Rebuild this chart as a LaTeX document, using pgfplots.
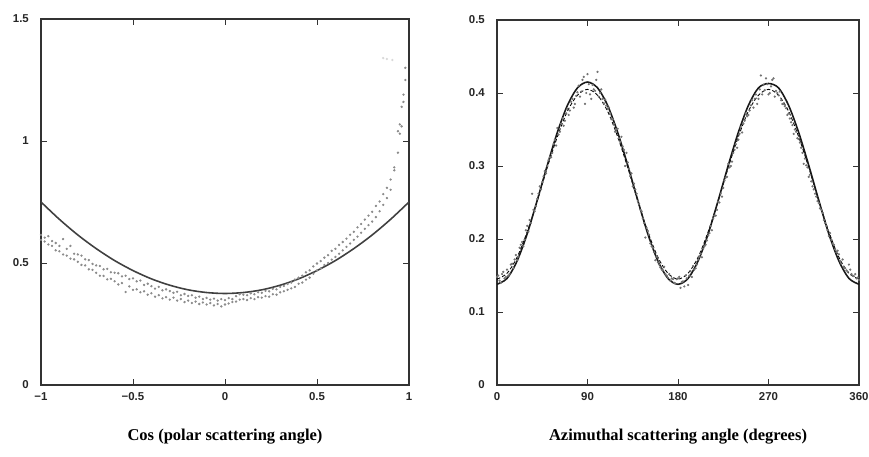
\documentclass[border=0pt]{standalone}
\usepackage{fontspec}
\setmainfont{Liberation Serif}
\newfontfamily\tickfont{Liberation Sans}
\usepackage{pgfplots}
\usepackage{pgfplotstable}
\pgfplotsset{compat=1.18}

% polar: measured points, two bands (u, l)
\pgfplotstableread{
x u l
-1.00 0.615 0.595
-0.98 0.604 0.588
-0.96 0.610 0.576
-0.94 0.590 0.570
-0.92 0.582 0.552
-0.90 0.570 0.548
-0.88 0.598 0.535
-0.86 0.558 0.530
-0.84 0.570 0.518
-0.82 0.538 0.515
-0.80 0.535 0.505
-0.78 0.530 0.492
-0.76 0.515 0.490
-0.74 0.512 0.474
-0.72 0.496 0.472
-0.70 0.490 0.460
-0.68 0.488 0.448
-0.66 0.474 0.447
-0.64 0.476 0.433
-0.62 0.462 0.435
-0.60 0.460 0.425
-0.58 0.458 0.412
-0.56 0.445 0.418
-0.54 0.448 0.381
-0.52 0.434 0.404
-0.50 0.437 0.390
-0.48 0.425 0.392
-0.46 0.428 0.380
-0.44 0.410 0.384
-0.42 0.415 0.370
-0.40 0.405 0.376
-0.38 0.395 0.362
-0.36 0.402 0.368
-0.34 0.388 0.355
-0.32 0.392 0.360
-0.30 0.385 0.350
-0.28 0.378 0.358
-0.26 0.382 0.346
-0.24 0.368 0.352
-0.22 0.373 0.340
-0.20 0.365 0.346
-0.18 0.368 0.336
-0.16 0.358 0.342
-0.14 0.362 0.332
-0.12 0.352 0.338
-0.10 0.357 0.330
-0.08 0.350 0.336
-0.06 0.354 0.326
-0.04 0.346 0.332
-0.02 0.352 0.322
0.00 0.348 0.330
0.02 0.356 0.334
0.04 0.352 0.340
0.06 0.364 0.342
0.08 0.372 0.350
0.10 0.370 0.352
0.12 0.368 0.348
0.14 0.376 0.356
0.16 0.372 0.352
0.18 0.380 0.360
0.20 0.378 0.358
0.22 0.386 0.364
0.24 0.384 0.362
0.26 0.394 0.372
0.28 0.392 0.370
0.30 0.402 0.380
0.32 0.406 0.384
0.34 0.414 0.390
0.36 0.420 0.396
0.38 0.432 0.402
0.40 0.440 0.415
0.42 0.448 0.420
0.44 0.462 0.432
0.46 0.470 0.440
0.48 0.486 0.456
0.50 0.498 0.470
0.52 0.508 0.478
0.54 0.522 0.492
0.56 0.532 0.500
0.58 0.550 0.514
0.60 0.558 0.525
0.62 0.574 0.538
0.64 0.586 0.552
0.66 0.600 0.566
0.68 0.616 0.580
0.70 0.628 0.595
0.72 0.646 0.608
0.74 0.660 0.624
0.76 0.678 0.640
0.78 0.694 0.655
0.80 0.710 0.670
0.82 0.734 0.688
0.84 0.752 0.712
0.86 0.782 0.738
0.88 0.808 0.766
0.90 0.842 0.800
0.92 0.880 0.892
0.94 0.952 1.040
0.95 1.068 1.030
0.96 1.140 1.060
0.97 1.190 1.160
0.98 1.300 1.250
}\polardots

% polar: model curve
\pgfplotstableread{
x y
-1.0 0.750
-0.9 0.679
-0.8 0.615
-0.7 0.559
-0.6 0.510
-0.5 0.469
-0.4 0.435
-0.3 0.409
-0.2 0.390
-0.1 0.379
0.0 0.375
0.1 0.379
0.2 0.390
0.3 0.409
0.4 0.435
0.5 0.469
0.6 0.510
0.7 0.559
0.8 0.615
0.9 0.679
1.0 0.750
}\polarfit

% azimuthal: model (solid) and fit (dashed)
\pgfplotstableread{
x s d
0 0.138 0.145
10 0.146 0.153
20 0.170 0.175
30 0.207 0.210
40 0.253 0.252
50 0.301 0.298
60 0.346 0.340
70 0.383 0.375
80 0.407 0.397
90 0.415 0.405
100 0.407 0.397
110 0.383 0.375
120 0.346 0.340
130 0.301 0.298
140 0.253 0.252
150 0.207 0.210
160 0.170 0.175
170 0.146 0.153
180 0.138 0.145
190 0.146 0.153
200 0.170 0.175
210 0.207 0.210
220 0.253 0.252
230 0.301 0.298
240 0.346 0.340
250 0.383 0.375
260 0.407 0.397
270 0.413 0.405
280 0.407 0.397
290 0.383 0.375
300 0.346 0.340
310 0.301 0.298
320 0.253 0.252
330 0.207 0.210
340 0.170 0.175
350 0.146 0.153
360 0.138 0.145
}\azifit

% azimuthal: measured points (two interleaved runs)
\pgfplotstableread{
x y
0 0.148
2.5 0.143
5 0.152
7.5 0.146
10 0.158
12.5 0.152
15 0.166
17.5 0.172
20 0.171
22.5 0.188
25 0.196
27.5 0.199
30 0.218
32.5 0.226
35 0.262
37.5 0.238
40 0.255
42.5 0.272
45 0.278
47.5 0.293
50 0.300
52.5 0.312
55 0.318
57.5 0.336
60 0.352
62.5 0.347
65 0.365
67.5 0.362
70 0.378
72.5 0.376
75 0.392
77.5 0.385
80 0.401
82.5 0.395
85 0.418
87.5 0.385
90 0.426
92.5 0.398
95 0.411
97.5 0.403
100 0.429
102.5 0.400
105 0.392
107.5 0.391
110 0.378
112.5 0.372
115 0.364
117.5 0.347
120 0.351
122.5 0.333
125 0.327
127.5 0.300
130 0.305
132.5 0.286
135 0.272
137.5 0.268
140 0.252
142.5 0.240
145 0.228
147.5 0.202
150 0.211
152.5 0.194
155 0.188
157.5 0.171
160 0.168
162.5 0.161
165 0.157
167.5 0.152
170 0.147
172.5 0.143
175 0.145
177.5 0.139
180 0.146
182.5 0.133
185 0.142
187.5 0.150
190 0.137
192.5 0.156
195 0.163
197.5 0.160
200 0.172
202.5 0.180
205 0.187
207.5 0.192
210 0.205
212.5 0.218
215 0.228
217.5 0.232
220 0.251
222.5 0.262
225 0.270
227.5 0.284
230 0.303
232.5 0.300
235 0.318
237.5 0.330
240 0.336
242.5 0.353
245 0.358
247.5 0.372
250 0.370
252.5 0.383
255 0.380
257.5 0.398
260 0.392
262.5 0.424
265 0.411
267.5 0.420
270 0.398
272.5 0.409
275 0.420
277.5 0.403
280 0.397
282.5 0.390
285 0.385
287.5 0.379
290 0.372
292.5 0.360
295 0.344
297.5 0.347
300 0.337
302.5 0.325
305 0.303
307.5 0.301
310 0.285
312.5 0.279
315 0.268
317.5 0.258
320 0.249
322.5 0.240
325 0.226
327.5 0.218
330 0.204
332.5 0.199
335 0.192
337.5 0.182
340 0.179
342.5 0.166
345 0.161
347.5 0.157
350 0.165
352.5 0.152
355 0.149
357.5 0.146
360 0.144
1.25 0.150
3.75 0.140
6.25 0.155
8.75 0.148
11.25 0.150
13.75 0.165
16.25 0.160
18.75 0.178
21.25 0.176
23.75 0.192
26.25 0.190
28.75 0.212
31.25 0.210
33.75 0.222
36.25 0.240
38.75 0.245
41.25 0.262
43.75 0.268
46.25 0.286
48.75 0.290
51.25 0.308
53.75 0.312
56.25 0.330
58.75 0.328
61.25 0.343
63.75 0.358
66.25 0.355
68.75 0.372
71.25 0.370
73.75 0.388
76.25 0.380
78.75 0.396
81.25 0.410
83.75 0.402
86.25 0.422
88.75 0.400
91.25 0.412
93.75 0.392
96.25 0.405
98.75 0.418
101.25 0.395
103.75 0.405
106.25 0.386
108.75 0.383
111.25 0.380
113.75 0.365
116.25 0.358
118.75 0.350
121.25 0.338
123.75 0.340
126.25 0.322
128.75 0.318
131.25 0.296
133.75 0.290
136.25 0.276
138.75 0.262
141.25 0.248
143.75 0.238
146.25 0.222
148.75 0.215
151.25 0.206
153.75 0.190
156.25 0.182
158.75 0.176
161.25 0.165
163.75 0.158
166.25 0.162
168.75 0.150
171.25 0.152
173.75 0.146
176.25 0.140
178.75 0.145
181.25 0.148
183.75 0.141
186.25 0.135
188.75 0.146
191.25 0.150
193.75 0.148
196.25 0.158
198.75 0.165
201.25 0.176
203.75 0.175
206.25 0.190
208.75 0.198
211.25 0.208
213.75 0.212
216.25 0.232
218.75 0.240
221.25 0.250
223.75 0.258
226.25 0.280
228.75 0.285
231.25 0.298
233.75 0.306
236.25 0.322
238.75 0.325
241.25 0.344
243.75 0.346
246.25 0.362
248.75 0.368
251.25 0.376
253.75 0.390
256.25 0.392
258.75 0.385
261.25 0.405
263.75 0.398
266.25 0.404
268.75 0.412
271.25 0.400
273.75 0.418
276.25 0.395
278.75 0.400
281.25 0.402
283.75 0.385
286.25 0.382
288.75 0.370
291.25 0.365
293.75 0.356
296.25 0.350
298.75 0.338
301.25 0.332
303.75 0.318
306.25 0.310
308.75 0.298
311.25 0.288
313.75 0.272
316.25 0.262
318.75 0.252
321.25 0.242
323.75 0.236
326.25 0.222
328.75 0.212
331.25 0.208
333.75 0.194
336.25 0.186
338.75 0.184
341.25 0.170
343.75 0.172
346.25 0.160
348.75 0.155
351.25 0.158
353.75 0.150
356.25 0.152
358.75 0.147
}\azidots

\pgfplotsset{
  panel/.style={
    scale only axis,
    axis line style={black!80, line width=0.6pt},
    tick style={black!80, line width=0.5pt},
    major tick length=0.12cm,
    tick align=inside,
    /pgf/number format/assume math mode=true,
    tick label style={font=\tickfont\bfseries\fontsize{6.5}{7}\selectfont, text=black!85},
    yticklabel style={xshift=-0.12cm},
    xticklabel style={yshift=-0.03cm},
    xlabel style={font=\bfseries\fontsize{9.4}{11}\selectfont,
                  at={(axis description cs:0.5,0)}, anchor=base, yshift=-1.1cm},
  },
}

\begin{document}
\begin{tikzpicture}
\useasboundingbox (-0.82,-1.42) rectangle (16.56,7.70);

\begin{axis}[panel,
  at={(0,0)}, anchor=south west,
  width=7.36cm, height=7.32cm,
  xmin=-1, xmax=1, ymin=0, ymax=1.5,
  xtick={-1,-0.5,0,0.5,1},
  xticklabels={−1,−0.5,0,0.5,1},
  ytick={0,0.5,1,1.5},
  xlabel={Cos (polar scattering angle)},
]
\addplot[only marks, mark=*, mark size=0.45pt, draw=black!45, fill=black!45] table[x=x, y=u] {\polardots};
\addplot[only marks, mark=*, mark size=0.45pt, draw=black!45, fill=black!45] table[x=x, y=l] {\polardots};
\addplot[only marks, mark=*, mark size=0.45pt, draw=black!15, fill=black!15] coordinates {(0.86,1.340) (0.88,1.336) (0.91,1.332)};
\addplot[smooth, black!75, line width=0.9pt] table[x=x, y=y] {\polarfit};
\end{axis}

\begin{axis}[panel,
  at={(9.12cm,0)}, anchor=south west,
  width=7.24cm, height=7.30cm,
  xmin=0, xmax=360, ymin=0, ymax=0.5,
  xtick={0,90,180,270,360},
  ytick={0,0.1,0.2,0.3,0.4,0.5},
  yticklabels={0,0.1,0.2,0.3,0.4,0.5},
  xlabel={Azimuthal scattering angle (degrees)},
]
\addplot[only marks, mark=*, mark size=0.42pt, draw=black!55, fill=black!55] table[x=x, y=y] {\azidots};
\addplot[smooth, black, line width=0.5pt, dash pattern=on 2pt off 1.2pt] table[x=x, y=d] {\azifit};
\addplot[smooth, black!90, line width=0.9pt] table[x=x, y=s] {\azifit};
\end{axis}
\end{tikzpicture}
\end{document}
